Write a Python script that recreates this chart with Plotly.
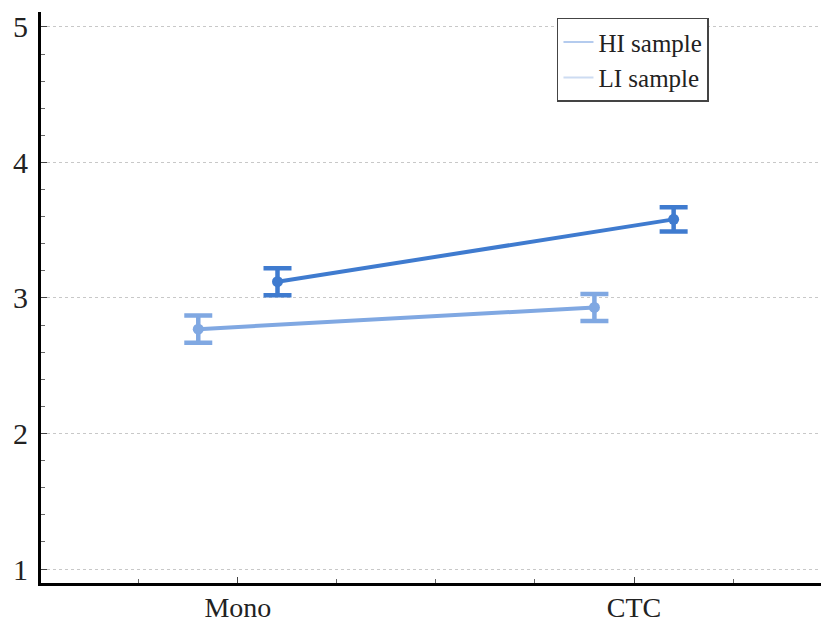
import numpy as np
import plotly.graph_objects as go

categories = ["Mono", "CTC"]
hi_means = [3.12, 3.58]
hi_err = [0.10, 0.09]
li_means = [2.77, 2.93]
li_err = [0.10, 0.10]
series_names = ["HI sample", "LI sample"]

dark = "#3f7bcf"
light = "#80a8e2"
dodge = 0.1
xpos = np.arange(len(categories), dtype=float)

fig = go.Figure()
for means, errs, col, off in [(li_means, li_err, light, -dodge), (hi_means, hi_err, dark, dodge)]:
    fig.add_trace(go.Scatter(
        x=xpos + off, y=means, mode="lines+markers",
        line=dict(color=col, width=4),
        marker=dict(color=col, size=11),
        error_y=dict(type="data", array=errs, color=col, thickness=4.5, width=14),
        showlegend=False, hoverinfo="skip"))

for name, col in zip(series_names, ["#b4cbee", "#cddcf2"]):
    fig.add_trace(go.Scatter(x=[None], y=[None], mode="lines", name=name,
                             line=dict(color=col, width=2)))

fig.update_layout(
    width=821, height=622,
    margin=dict(l=41, r=0, t=12, b=39),
    plot_bgcolor="white", paper_bgcolor="white",
    font=dict(family="Liberation Serif", color="#222"),
    legend=dict(x=0.6615, y=0.99, xanchor="left", yanchor="top",
                bordercolor="#444", borderwidth=1.5, bgcolor="white",
                font=dict(size=25, family="Liberation Serif", color="#222"),
                tracegroupgap=0, itemwidth=30),
    xaxis=dict(range=[-0.497, 1.472], tickmode="array", tickvals=xpos, ticktext=categories,
               automargin=False,
               showgrid=False, zeroline=False, showline=True, linecolor="black", linewidth=3,
               ticks="inside", ticklen=6, tickwidth=1, tickcolor="#444",
               tickfont=dict(size=28), ticklabelstandoff=-3,
               minor=dict(tickmode="linear", tick0=0, dtick=0.25, ticks="inside",
                          ticklen=4, tickcolor="#666", showgrid=False)),
    yaxis=dict(range=[0.897, 5.11], tickmode="linear", tick0=1, dtick=1,
               automargin=False,
               showgrid=True, gridcolor="#c8c8c8", griddash="dot", gridwidth=1,
               zeroline=False, showline=True, linecolor="black", linewidth=3,
               ticks="inside", ticklen=6, tickwidth=1, tickcolor="#444",
               tickfont=dict(size=30), ticklabelstandoff=4,
               minor=dict(tickmode="linear", tick0=1, dtick=0.2, ticks="inside",
                          ticklen=4, tickcolor="#666", showgrid=False)),
)

fig.write_html("out.html", config={"displayModeBar": False},
               post_script="document.body.style.margin='0';document.body.style.overflow='hidden';")
